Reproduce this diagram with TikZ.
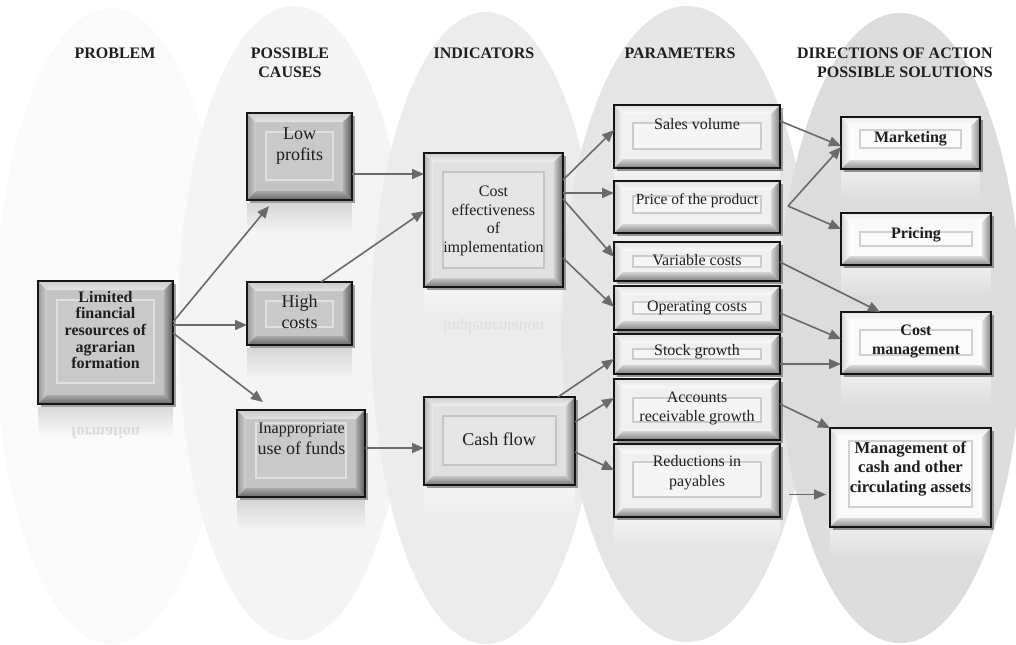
\documentclass[tikz,border=0pt]{standalone}
\usepackage{fontspec}
\setmainfont{Liberation Serif}
\usetikzlibrary{arrows.meta,calc,fit,shadows,fadings}
\tikzfading[name=fadedown, top color=transparent!0, bottom color=transparent!100]

\definecolor{ea}{HTML}{FAFAFA}
\definecolor{eb}{HTML}{F4F4F4}
\definecolor{ec}{HTML}{ECECEC}
\definecolor{ed}{HTML}{E5E5E6}
\definecolor{ee}{HTML}{DCDCDD}
\definecolor{arrc}{HTML}{6A6A6A}
\definecolor{txtc}{HTML}{1E1E1E}

\newcommand\Fr{\fontsize{12}{14}\selectfont}
\newcommand\Fl{\fontsize{13.5}{16}\selectfont}
\newcommand\Fb{\bfseries\fontsize{12}{12.4}\selectfont}
\newcommand\Fbb{\bfseries\fontsize{12}{14}\selectfont}

\newcommand\bev[4]{%
  \path[#2L] (#1.north west) -- ($(#1.north west)+(9,9)$) -- ($(#1.south west)+(9,-9)$) -- (#1.south west) -- cycle;
  \path[#2T] (#1.north west) -- (#1.north east) -- ($(#1.north east)+(-9,9)$) -- ($(#1.north west)+(9,9)$) -- cycle;
  \path[#2R] (#1.north east) -- (#1.south east) -- ($(#1.south east)+(-9,-9)$) -- ($(#1.north east)+(-9,9)$) -- cycle;
  \path[#2B] (#1.south west) -- (#1.south east) -- ($(#1.south east)+(-9,-9)$) -- ($(#1.south west)+(9,-9)$) -- cycle;
  \draw[#2I] ($(#1.north west)+(19,#3)$) rectangle ($(#1.south east)+(-19,-#4)$);
  \draw[line width=1.5pt, draw=black!92] (#1.north west) rectangle (#1.south east);
  \fill[#2Rf, path fading=fadedown] ($(#1.south west)+(0,3)$) rectangle ($(#1.south east)+(0,32)$);
}

\begin{document}
\begin{tikzpicture}[x=0.75pt,y=-0.75pt,
  bx/.style={draw=black!92, line width=1.5pt, inner sep=0pt, outer sep=0pt,
    drop shadow={shadow xshift=2.2pt, shadow yshift=-2.2pt, opacity=0.35, fill=black}},
  dbox/.style={bx, fill=black!23},
  lbox/.style={bx, fill=black!6},
  ibox/.style={bx, fill=black!12},
  sbox/.style={bx, fill=black!2},
  dL/.style={left color=black!40, right color=black!18},
  dT/.style={top color=black!20, bottom color=black!11},
  dR/.style={left color=black!32, right color=black!66},
  dB/.style={top color=black!34, bottom color=black!60},
  dI/.style={draw=black!12, line width=1pt, fill=black!21},
  dRf/.style={fill=black!30, opacity=0.45},
  lL/.style={left color=black!20, right color=black!3},
  lT/.style={top color=black!11, bottom color=black!2},
  lR/.style={left color=black!16, right color=black!52},
  lB/.style={top color=black!17, bottom color=black!50},
  lI/.style={draw=black!20, line width=1pt, fill=black!4},
  lRf/.style={fill=white, opacity=0.5},
  iL/.style={left color=black!30, right color=black!7},
  iT/.style={top color=black!20, bottom color=black!6},
  iR/.style={left color=black!20, right color=black!57},
  iB/.style={top color=black!22, bottom color=black!55},
  iI/.style={draw=black!23, line width=1pt, fill=black!10},
  iRf/.style={fill=white, opacity=0.45},
  sL/.style={left color=black!17, right color=white},
  sT/.style={top color=black!9, bottom color=white},
  sR/.style={left color=black!12, right color=black!48},
  sB/.style={top color=black!14, bottom color=black!46},
  sI/.style={draw=black!18, line width=1pt, fill=black!1},
  sRf/.style={fill=white, opacity=0.5},
  txt/.style={align=center, inner sep=0pt, text=txtc},
  hdr/.style={align=center, inner sep=0pt, font=\bfseries\fontsize{12}{14.25}\selectfont, text=txtc, anchor=north},
  arr/.style={draw=arrc, line width=1.2pt, -{Triangle[length=9pt,width=7.5pt]}}
]
\clip (0,0) rectangle (1016,644);
\fill[white] (0,0) rectangle (1016,644);

% background ellipses
\fill[ea] (111,326) ellipse [x radius=116, y radius=318];
\fill[eb] (294,323) ellipse [x radius=116, y radius=317];
\fill[ec] (486,328) ellipse [x radius=115, y radius=316];
\fill[ed] (687,324) ellipse [x radius=126, y radius=318];
\fill[ee] (900,328) ellipse [x radius=122, y radius=315];

% headers
\node[hdr] (h1) at (115,48) {PROBLEM};
\node[hdr] (h2) at (290,48) {POSSIBLE\\CAUSES};
\node[hdr] (h3) at (484,48) {INDICATORS};
\node[hdr] (h4) at (680,48) {PARAMETERS};
\node[hdr, anchor=north east, align=right] (h5) at (993,48) {DIRECTIONS OF ACTION\\POSSIBLE SOLUTIONS};

% boxes
\node[dbox, fit={(38,281)(173,404)}] (prob) {};
\bev{prob}{d}{19}{21}
\node[dbox, fit={(247,113)(352,200)}] (lp) {};
\bev{lp}{d}{19}{20}
\node[dbox, fit={(247,282)(352,345)}] (hc) {};
\bev{hc}{d}{19}{18}
\node[dbox, fit={(237,410)(365,497)}] (inap) {};
\bev{inap}{d}{13}{19}

\node[ibox, fit={(424,153)(563,287)}] (ce) {};
\bev{ce}{i}{19}{19}
\node[ibox, fit={(424,397)(575,485)}] (cf) {};
\bev{cf}{i}{19}{20}

\node[lbox, fit={(614,105)(780,168)}] (sv) {};
\bev{sv}{l}{18}{19}
\node[lbox, fit={(614,181)(780,233)}] (pr) {};
\bev{pr}{l}{15}{20}
\node[lbox, fit={(614,242)(780,281)}] (vc) {};
\bev{vc}{l}{14}{14}
\node[lbox, fit={(614,286)(780,330)}] (oc) {};
\bev{oc}{l}{16}{16}
\node[lbox, fit={(614,334)(780,374)}] (sg) {};
\bev{sg}{l}{15}{15}
\node[lbox, fit={(614,379)(780,440)}] (ar) {};
\bev{ar}{l}{19}{18}
\node[lbox, fit={(614,444)(780,517)}] (rp) {};
\bev{rp}{l}{18}{20}

\node[sbox, fit={(841,117)(980,169)}] (mk) {};
\bev{mk}{s}{13}{21}
\node[sbox, fit={(841,213)(991,265)}] (pc) {};
\bev{pc}{s}{19}{19}
\node[sbox, fit={(841,312)(991,374)}] (cm) {};
\bev{cm}{s}{18}{19}
\node[sbox, fit={(830,428)(991,527)}] (mc) {};
\bev{mc}{s}{13}{20}

% reflections of text
\node[txt, font=\Fb, text=black!15] (probR) at (105.5,433) {\scalebox{1}[-1]{formation}};
\node[txt, font=\Fr, text=black!13] (ceR) at (493.5,326) {\scalebox{1}[-1]{implementation}};

% texts
\node[txt, font=\Fb] (probT) at (105.5,330) {Limited\\financial\\resources of\\agrarian\\formation};
\node[txt, font=\Fl] (lpT) at (299.5,146) {Low\\profits};
\node[txt, font=\Fl] (hcT) at (299.5,312) {High\\costs};
\node[txt, font=\Fl] (inapT) at (301.5,439) {{\Fr Inappropriate}\\use of funds};
\node[txt, font=\Fr] (ceT) at (493.5,221) {Cost\\effectiveness\\of\\implementation};
\node[txt, font=\Fl] (cfT) at (499,439) {Cash flow};
\node[txt, font=\Fr] (svT) at (697,124) {Sales volume};
\node[txt, font=\fontsize{11.6}{14}\selectfont] (prT) at (697,200.5) {Price of the product};
\node[txt, font=\Fr] (vcT) at (697,260) {Variable costs};
\node[txt, font=\Fr] (ocT) at (697,307.5) {Operating costs};
\node[txt, font=\Fr] (sgT) at (697,352) {Stock growth};
\node[txt, font=\Fr] (arT) at (697,408.5) {Accounts\\receivable growth};
\node[txt, font=\fontsize{12}{14.6}\selectfont] (rpT) at (697,472.5) {Reductions in\\payables};
\node[txt, font=\Fbb] (mkT) at (910.5,139) {Marketing};
\node[txt, font=\Fbb] (pcT) at (916,235) {Pricing};
\node[txt, font=\Fbb] (cmT) at (916,341.5) {Cost\\management};
\node[txt, font=\bfseries\fontsize{12.5}{14.6}\selectfont] (mcT) at (910.5,468.5) {Management of\\cash and other\\circulating assets};

% connectors
\coordinate (pv) at ($(pr.east)+(8,-1)$);
\coordinate (fa) at ($(rp.east)+(9,14)$);

\draw[arr] (prob.east |- 0,322) -- ($(lp.south -| 269,0)+(0,6)$);
\draw[arr] (prob.east |- 0,325) -- (hc.west |- 0,325);
\draw[arr] (prob.east |- 0,333) -- ($(inap.north -| 263,0)+(0,-8)$);
\draw[arr] (lp.east |- 0,174) -- (ce.west |- 0,174);
\draw[arr] (hc.north -| 321,0) -- (ce.west |- 0,211);
\draw[arr] (inap.east |- 0,448) -- (cf.west |- 0,448);
\draw[arr] (ce.east |- 0,180) -- (sv.west |- 0,130);
\draw[arr] (ce.east |- 0,193) -- (pr.west |- 0,193);
\draw[arr] (ce.east |- 0,199) -- (vc.west |- 0,257);
\draw[arr] (ce.east |- 0,258) -- (oc.west |- 0,307);
\draw[arr] (cf.north -| 558,0) -- (sg.west |- 0,359);
\draw[arr] (cf.east |- 0,422) -- (ar.west |- 0,398);
\draw[arr] (cf.east |- 0,452) -- (rp.west |- 0,470);
\draw[arr] (sv.east |- 0,121) -- (mk.west |- 0,146);
\draw[arr] (pv) -- (mk.west |- 0,147);
\draw[arr] (pv) -- (pc.west |- 0,229);
\draw[arr] (vc.east |- 0,262) -- (cm.north -| 880,0);
\draw[arr] (oc.east |- 0,313) -- (cm.west |- 0,339);
\draw[arr] (sg.east |- 0,364) -- (cm.west |- 0,364);
\draw[arr] (ar.east |- 0,404) -- (mc.north west);
\draw[arr, shorten >=3pt] (fa) -- (mc.west |- fa);
\end{tikzpicture}
\end{document}
